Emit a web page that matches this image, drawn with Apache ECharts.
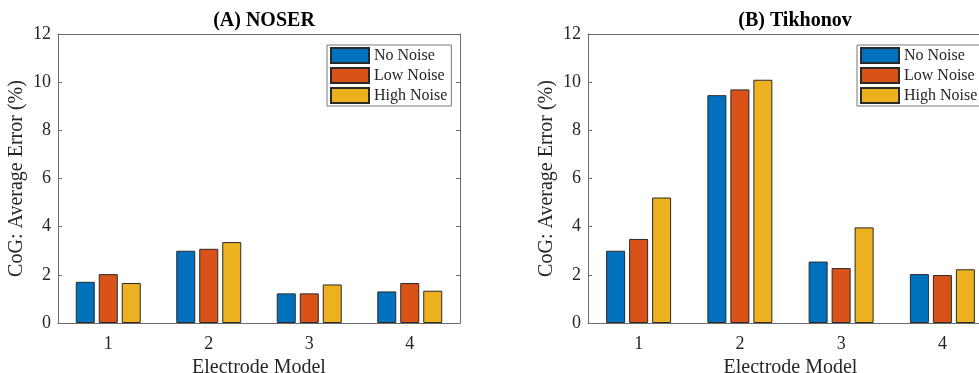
<!DOCTYPE html>
<html><head><meta charset="utf-8">
<script src="https://cdn.jsdelivr.net/npm/echarts@6/dist/echarts.min.js"></script>
<style>html,body{margin:0;padding:0;background:#fff}#c{width:979px;height:373px}</style>
</head><body><div id="c"></div>
<script>
const categories = ['1', '2', '3', '4'];
const seriesNames = ['No Noise', 'Low Noise', 'High Noise'];
const noserNoNoise = [1.71, 3.00, 1.23, 1.31];
const noserLowNoise = [2.03, 3.08, 1.23, 1.66];
const noserHighNoise = [1.66, 3.36, 1.60, 1.34];
const tikNoNoise = [3.00, 9.46, 2.55, 2.03];
const tikLowNoise = [3.49, 9.70, 2.28, 1.99];
const tikHighNoise = [5.21, 10.10, 3.97, 2.23];
const titles = ['(A) NOSER', '(B) Tikhonov'];
const xName = 'Electrode Model';
const yName = 'CoG: Average Error (%)';
const colors = ['#0072BD', '#D95319', '#EDB120'];

const FONT = 'Liberation Serif';
const TXT = '#262626';
const AX = '#6b6b6b';
const grids = [
  {left: 58, top: 34, width: 402, height: 289, containLabel: false, outerBoundsMode: 'none'},
  {left: 588, top: 34, width: 405, height: 289, containLabel: false, outerBoundsMode: 'none'}
];
const xAxes = [], yAxes = [], series = [];
grids.forEach((g, i) => {
  xAxes.push({
    type: 'category', gridIndex: i, data: categories, position: 'bottom',
    name: xName, nameLocation: 'middle', nameGap: 35,
    nameTextStyle: {fontFamily: FONT, fontSize: 20, color: TXT},
    axisLine: {onZero: false, lineStyle: {color: AX, width: 1}},
    axisTick: {inside: true, alignWithLabel: true, length: 4, lineStyle: {color: AX}},
    axisLabel: {fontFamily: FONT, fontSize: 18, color: TXT, margin: 12},
    splitLine: {show: false}
  });
  xAxes.push({
    type: 'category', gridIndex: i, data: categories, position: 'top',
    axisLine: {show: true, onZero: false, lineStyle: {color: AX, width: 1}},
    axisTick: {inside: true, alignWithLabel: true, length: 4, lineStyle: {color: AX}},
    axisLabel: {show: false}
  });
  yAxes.push({
    type: 'value', gridIndex: i, min: 0, max: 12, interval: 2, position: 'left',
    name: yName, nameLocation: 'middle', nameGap: 31, nameRotate: 90,
    nameTextStyle: {fontFamily: FONT, fontSize: 20, color: TXT},
    axisLine: {show: true, onZero: false, lineStyle: {color: AX, width: 1}},
    axisTick: {show: true, inside: true, length: 4, lineStyle: {color: AX}},
    axisLabel: {fontFamily: FONT, fontSize: 18, color: TXT, margin: 7},
    splitLine: {show: false}
  });
  yAxes.push({
    type: 'value', gridIndex: i, min: 0, max: 12, interval: 2, position: 'right',
    axisLine: {show: true, onZero: false, lineStyle: {color: AX, width: 1}},
    axisTick: {show: true, inside: true, length: 4, lineStyle: {color: AX}},
    axisLabel: {show: false},
    splitLine: {show: false}
  });
});
const data = [[noserNoNoise, noserLowNoise, noserHighNoise], [tikNoNoise, tikLowNoise, tikHighNoise]];
data.forEach((set, gi) => {
  set.forEach((vals, si) => {
    series.push({
      type: 'bar', name: seriesNames[si], xAxisIndex: gi * 2, yAxisIndex: gi * 2,
      data: vals, barWidth: 19, barGap: '21%',
      itemStyle: {color: colors[si], borderColor: '#2a2a2a', borderWidth: 1},
      emphasis: {disabled: true}
    });
  });
});
const legendBase = {
  orient: 'vertical', top: 45, itemWidth: 38, itemHeight: 15, itemGap: 3,
  itemTextGap: 3, padding: [2, 4, 2, 3], icon: 'rect',
  backgroundColor: '#fff', borderColor: '#777', borderWidth: 1,
  textStyle: {fontFamily: FONT, fontSize: 16, color: TXT, lineHeight: 17},
  data: seriesNames, selectedMode: false
};
const option = {
  animation: false,
  title: [
    {text: titles[0], left: 259, top: 6, textAlign: 'center',
     textStyle: {fontFamily: FONT, fontSize: 20, fontWeight: 'bold', color: '#000'}},
    {text: titles[1], left: 790, top: 6, textAlign: 'center',
     textStyle: {fontFamily: FONT, fontSize: 20, fontWeight: 'bold', color: '#000'}}
  ],
  grid: grids,
  xAxis: xAxes,
  yAxis: yAxes,
  legend: [Object.assign({}, legendBase, {left: 327}), Object.assign({}, legendBase, {left: 857})],
  series: series
};
echarts.init(document.getElementById('c')).setOption(option);
</script></body></html>
